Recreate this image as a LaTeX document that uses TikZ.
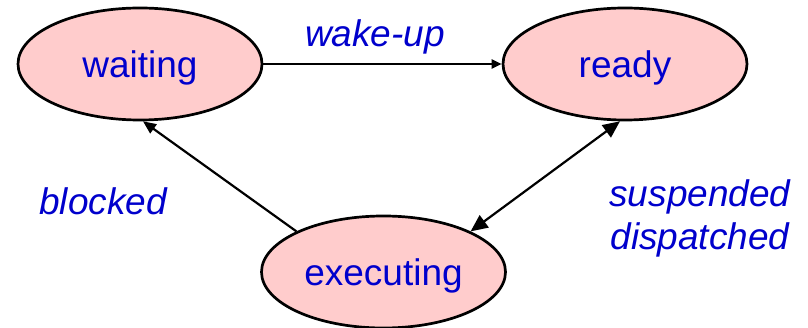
\documentclass[tikz,border=0pt]{standalone}
\usepackage{fontspec}
\setmainfont{Liberation Sans}
\usetikzlibrary{shapes.geometric,arrows.meta}
\definecolor{statefill}{HTML}{FFCCCC}
\definecolor{labelblue}{HTML}{0000CC}
\begin{document}
\begin{tikzpicture}[x=1pt,y=-1pt,
  state/.style={ellipse, draw, line width=2.7pt, fill=statefill,
    minimum width=244pt, minimum height=112pt, inner sep=0pt,
    text=labelblue, font=\fontsize{37}{40}\selectfont,
    text height=28pt, text depth=0pt},
  lbl/.style={text=labelblue, font=\fontsize{37}{44}\selectfont\itshape,
    inner sep=0pt, anchor=base},
  conn/.style={line width=2.2pt},
]
\useasboundingbox (0,0) rectangle (808,328);
\node[state] (waiting) at (140,64) {waiting};
\node[state] (ready) at (625,64) {ready};
\node[state] (executing) at (383.5,272) {executing};
\draw[conn, -{Triangle[length=10pt,width=9pt]}] (waiting) -- (ready);
\draw[conn, -{Triangle[length=13pt,width=11pt]}] (executing.155) -- (waiting.273);
\draw[conn, {Triangle[length=17pt,width=15pt]}-{Triangle[length=17pt,width=15pt]}] (executing.25) -- (ready.265);
\node[lbl] (wake) at (375,47) {wake-up};
\node[lbl] (blocked) at (103,215) {blocked};
\node[lbl] (susp) at (700,207) {suspended};
\node[lbl] (disp) at (700,250) {dispatched};
\end{tikzpicture}
\end{document}
